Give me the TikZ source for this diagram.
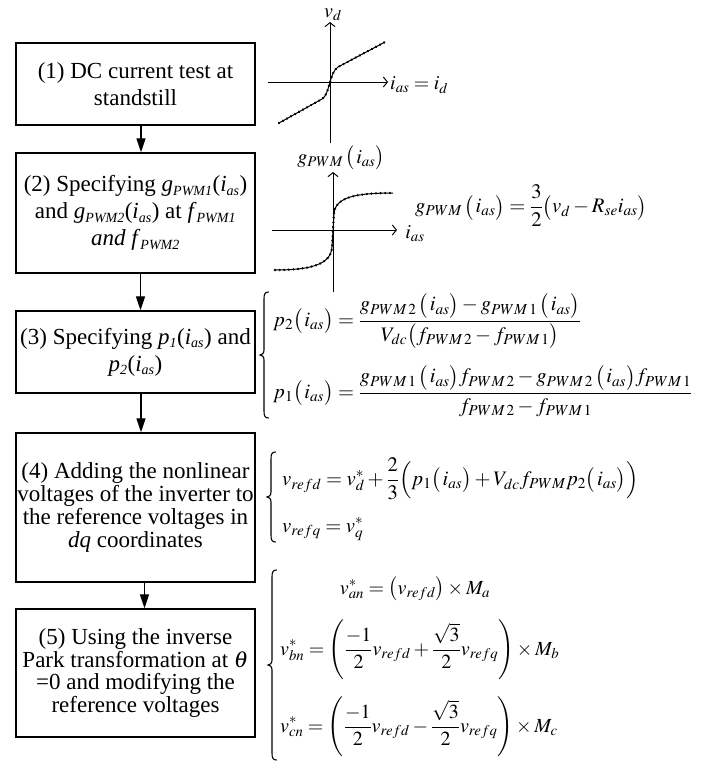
\documentclass[tikz,border=0pt]{standalone}
\usepackage{mathptmx}
\usepackage{fontspec}
\setmainfont{Liberation Serif}
\usetikzlibrary{arrows.meta,decorations.markings}
\newcommand\bsub[1]{\textsubscript{\fontsize{14}{14}\selectfont\itshape #1}}
\newcommand\ias{\bigl(\mkern1.5mu i_{as}\bigr)}
\newcommand\eqbrace[3]{%
  \pgfmathsetmacro\bxa{#1}\pgfmathsetmacro\bya{#2}\pgfmathsetmacro\byb{#3}%
  \pgfmathsetmacro\bym{(#2+#3)/2}%
  \draw[bracestyle] ({\bxa+4.5},\bya) .. controls ({\bxa+1},\bya) and (\bxa,{\bya+2}) .. (\bxa,{\bya+7})
    -- (\bxa,{\bym-5}) .. controls (\bxa,{\bym-1.5}) and ({\bxa-2},\bym) .. ({\bxa-4},\bym)
    .. controls ({\bxa-2},\bym) and (\bxa,{\bym+1.5}) .. (\bxa,{\bym+5})
    -- (\bxa,{\byb-7}) .. controls (\bxa,{\byb-2}) and ({\bxa+1},\byb) .. ({\bxa+4.5},\byb);}
\begin{document}
\begin{tikzpicture}[x=1pt,y=-1pt,
  stepbox/.style={draw, line width=1.4pt, minimum width=239pt, align=center, inner sep=0pt},
  boxA/.style={stepbox, font=\fontsize{23}{27}\selectfont},
  boxB/.style={stepbox, font=\fontsize{23}{22.7}\selectfont},
  flow/.style={line width=1.3pt, -{Triangle[length=14pt,width=9pt]}},
  axis/.style={line width=1pt, -{Straight Barb[length=4pt,width=10pt]}},
  eq/.style={inner sep=0pt, font=\fontsize{20.6}{24}\selectfont},
  eqs/.style={inner sep=0pt, font=\fontsize{20}{24}\selectfont},
  bracestyle/.style={line width=1.1pt, line cap=round},
  dotcurve/.style={line width=1pt, postaction={decorate},
    decoration={markings, mark=between positions 0 and 1 step 4.6pt with {\fill (0,0) circle (1.3pt);}}}
]
\useasboundingbox (0,0) rectangle (703,761);

% boxes
\node[boxA, minimum height=82pt] (b1) at (135.5,84) {(1) DC current test at\\standstill};
\node[boxA, minimum height=120pt] (b2) at (135.5,213) {(2) Specifying \textit{g}\bsub{PWM1}(\textit{i}\bsub{as})\\and \textit{g}\bsub{PWM2}(\textit{i}\bsub{as}) at \textit{f}\bsub{PWM1}\\\textit{and f}\bsub{PWM2}};
\node[boxA, minimum height=82pt] (b3) at (135.5,352) {(3) Specifying \textit{p}\bsub{1}(\textit{i}\bsub{as}) and\\\textit{p}\bsub{2}(\textit{i}\bsub{as})};
\node[boxB, minimum height=149pt] (b4) at (135.5,507.5) {(4) Adding the nonlinear\\voltages of the inverter to\\the reference voltages in\\\textit{dq} coordinates};
\node[boxB, minimum height=128pt] (b5) at (135.5,673) {(5) Using the inverse\\Park transformation at $\theta$\\=0 and modifying the\\reference voltages};

\draw[flow] ([xshift=5.5pt]b1.south) -- ([xshift=5.5pt]b2.north);
\draw[flow] ([xshift=5pt]b2.south) -- ([xshift=5pt]b3.north);
\draw[flow] ([xshift=5.5pt]b3.south) -- ([xshift=5.5pt]b4.north);
\draw[flow] ([xshift=9pt]b4.south) -- ([xshift=9pt]b5.north);

% graph 1
\coordinate (h1a) at (268,82); \coordinate (h1b) at (388,82);
\coordinate (v1a) at (330,143); \coordinate (v1b) at (330,22);
\draw[axis] (h1a) -- (h1b);
\draw[axis] (v1a) -- (v1b);
\draw[dotcurve] (279,123) -- (322,99) .. controls (330,94) and (329,73) .. (338,67) -- (385,42);
\node[eqs, anchor=base west] (lvd) at (324,17) {$v_d$};
\node[eqs, anchor=west] (lias1) at (390,85) {$i_{as} = i_d$};

% graph 2
\coordinate (h2a) at (272,230); \coordinate (h2b) at (397,230);
\coordinate (v2a) at (333,292); \coordinate (v2b) at (333,172);
\draw[axis] (h2a) -- (h2b);
\draw[axis] (v2a) -- (v2b);
\draw[dotcurve] (275,270) .. controls (312,270) and (331,264) .. (332,247) -- (333,230) -- (334,213) .. controls (336,197) and (356,193) .. (393,193);
\node[eqs] (lg) at (341,158) {$g_{PWM}\,\ias$};
\node[eqs] (lias2) at (415,234) {$i_{as}$};
\node[eq] (eg) at (531,206) {$\displaystyle g_{PWM}\,\ias = \frac{3}{2}\bigl(v_d - R_{se} i_{as}\bigr)$};

% block 3 equations
\eqbrace{264}{292}{418}
\node[eq, anchor=west] (e3a) at (273,321) {$\displaystyle p_2\ias = \frac{g_{PWM\,2}\,\ias - g_{PWM\,1}\,\ias}{V_{dc}\bigl(f_{PWM\,2} - f_{PWM\,1}\bigr)}$};
\node[eq, anchor=west] (e3b) at (273,391) {$\displaystyle p_1\ias = \frac{g_{PWM\,1}\,\ias f_{PWM\,2} - g_{PWM\,2}\,\ias f_{PWM\,1}}{f_{PWM\,2} - f_{PWM\,1}}$};

% block 4 equations
\eqbrace{271}{452}{542}
\node[eq, anchor=west] (e4a) at (282,479) {$\displaystyle v_{refd} = v_d^{*} + \frac{2}{3}\Bigl(p_1\ias + V_{dc} f_{PWM} p_2\ias\Bigr)$};
\node[eq, anchor=west] (e4b) at (282,529) {$v_{refq} = v_q^{*}$};

% block 5 equations
\eqbrace{272}{570}{760}
\node[eqs] (e5a) at (415,589) {$v_{an}^{*} = \bigl(v_{refd}\bigr) \times M_a$};
\node[eqs, anchor=west] (e5b) at (280,650) {$\displaystyle v_{bn}^{*} = \left(\frac{-1}{2} v_{refd} + \frac{\sqrt{3}}{2} v_{refq}\right) \times M_b$};
\node[eqs, anchor=west] (e5c) at (280,727) {$\displaystyle v_{cn}^{*} = \left(\frac{-1}{2} v_{refd} - \frac{\sqrt{3}}{2} v_{refq}\right) \times M_c$};
\end{tikzpicture}
\end{document}
